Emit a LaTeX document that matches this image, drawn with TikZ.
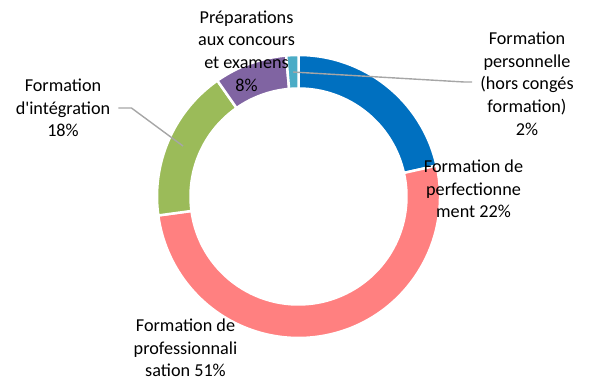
\documentclass[tikz,border=0pt]{standalone}
\usepackage{fontspec}
\setmainfont{Carlito}[Ligatures=TeXOff]
\usepackage{xcolor}
\usetikzlibrary{calc, positioning}
\definecolor{partblue}{HTML}{0070C0}
\definecolor{partpink}{HTML}{FF8080}
\definecolor{partgreen}{HTML}{9BBB59}
\definecolor{partpurple}{HTML}{8064A2}
\definecolor{partcyan}{HTML}{4BACC6}
\definecolor{leadgray}{HTML}{A6A6A6}
\tikzset{
    part/.style={
        draw=white,
        line width=2.5pt,
    },
    share/.style={
        align=center,
        inner xsep=8pt,
        font=\fontsize{18.2}{22.7}\selectfont,
    },
    leader/.style={
        draw=leadgray,
        line width=1.4pt,
    },
}
\newcommand{\ringpart}[3]{%
  \filldraw[part, fill=#1] ($(ctr)+(#2:141.5)$) arc[start angle=#2, end angle=#3, radius=141.5]
    -- ($(ctr)+(#3:108)$) arc[start angle=#3, end angle=#2, radius=108] -- cycle;}

\begin{document}
\begin{tikzpicture}[x=1pt,y=1pt]
      \useasboundingbox (0,0) rectangle (589,383);
      \coordinate (ctr) at (298.5,186.5);

      \ringpart{partblue}{90}{12.6}
      \ringpart{partpink}{12.6}{-172.3}
      \ringpart{partgreen}{-172.3}{-235}
      \ringpart{partpurple}{-235}{-265}
      \ringpart{partcyan}{-265}{-270}

      \coordinate (cyan-pt) at ($(ctr)+(92.5:124.6)$);
      \coordinate (green-pt) at ($(ctr)+(156.4:126)$);

      \node [share] (prep) at (246.5,332) {Préparations\\aux concours\\et examens\\8\%};
      \node [share] (perso) at (527,299.5) {Formation\\personnelle\\(hors congés\\formation)\\2\%};
      \node [share] (perf) at (473.5,194) {Formation de\\perfectionne\\ment 22\%};
      \node [share] (integ) at (63,275) {Formation\\d'intégration\\18\%};
      \node [share] (pro) at (185.5,35) {Formation de\\professionnali\\sation 51\%};

      \draw[leader] (cyan-pt) -- ([xshift=-8pt,yshift=1.5pt]perso.west) -- ([yshift=1.5pt]perso.west);
      \draw[leader] (integ.east) -- ++(13,0) -- (green-pt);
    \end{tikzpicture}
\end{document}
